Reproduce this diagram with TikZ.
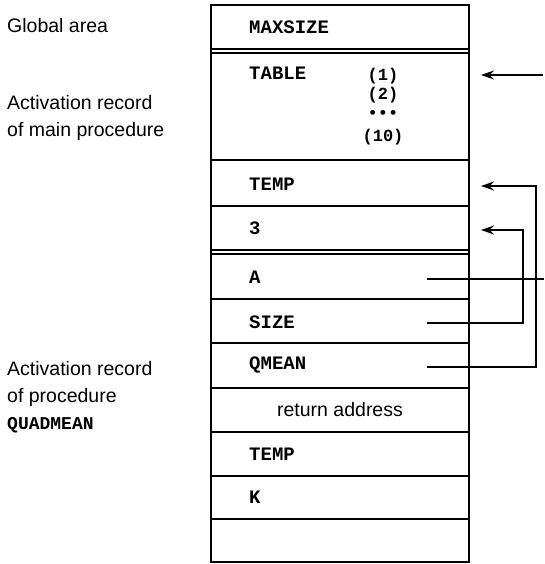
\documentclass[tikz,border=0pt]{standalone}
\usepackage{fontspec}
\setmainfont{Liberation Sans}
\newfontfamily\varfont{Liberation Mono}
\usetikzlibrary{arrows.meta}
\begin{document}
\begin{tikzpicture}[x=1pt,y=-1pt,
  cell/.style={minimum width=258pt, inner sep=0pt, outer sep=0pt},
  frame/.style={line width=1.6pt},
  rowline/.style={line width=1.5pt},
  var/.style={font=\varfont\bfseries\fontsize{19}{22}\selectfont, anchor=west, inner sep=0pt},
  num/.style={font=\varfont\bfseries\fontsize{17}{20}\selectfont, inner sep=0pt},
  plain/.style={font=\fontsize{19.5}{24}\selectfont, inner sep=0pt},
  lab/.style={font=\fontsize{19.5}{27}\selectfont, anchor=west, align=left, inner sep=0pt},
  wire/.style={line width=1.6pt},
  ptr/.style={line width=1.6pt, -{Stealth[length=13pt,width=9pt]}}]
\useasboundingbox (0,0) rectangle (544,564);

% rows of the stack
\node[cell, minimum height=44pt]  (rMax)   at (340,27)    {};
\node[cell, minimum height=107pt] (rTable) at (340,106.5) {};
\node[cell, minimum height=46pt]  (rTemp)  at (340,183)   {};
\node[cell, minimum height=44pt]  (rThree) at (340,228)   {};
\node[cell, minimum height=45pt]  (rA)     at (340,276.5) {};
\node[cell, minimum height=44pt]  (rSize)  at (340,321)   {};
\node[cell, minimum height=45pt]  (rQmean) at (340,365.5) {};
\node[cell, minimum height=44pt]  (rRet)   at (340,410)   {};
\node[cell, minimum height=44pt]  (rTempB) at (340,454)   {};
\node[cell, minimum height=43pt]  (rK)     at (340,497.5) {};
\node[cell, minimum height=43pt]  (rEmpty) at (340,540.5) {};

\draw[frame] (rMax.north west) rectangle (rEmpty.south east);
\foreach \r in {rMax,rTable,rTemp,rThree,rA,rSize,rQmean,rRet,rTempB,rK}
  \draw[rowline] (\r.south west) -- (\r.south east);
\draw[rowline] (rTable.north west) -- (rTable.north east);
\draw[rowline] (rA.north west) -- (rA.north east);

% texts in the rows
\node[var] (tMax)   at (249,27)  {MAXSIZE};
\node[var] (tTable) at (249,73)  {TABLE};
\node[num] (n1)     at (383,76)  {(1)};
\node[num] (n2)     at (383,95)  {(2)};
\node[num] (ndots)  at (383,114) {•••};
\node[num] (n10)    at (383,137) {(10)};
\node[var] (tTemp)  at (249,184) {TEMP};
\node[var] (tThree) at (249,228) {3};
\node[var] (tA)     at (249,277) {A};
\node[var] (tSize)  at (249,322) {SIZE};
\node[var] (tQmean) at (249,365) {QMEAN};
\node[plain] (tRet) at (rRet)    {return address};
\node[var] (tTempB) at (249,454) {TEMP};
\node[var] (tK)     at (249,497) {K};

% left labels
\node[lab] (lGlobal) at (7,26)    {Global area};
\node[lab] (lMain)   at (7,117.5) {Activation record\\of main procedure};
\node[lab] (lQuad)   at (7,397)   {Activation record\\of procedure\\{\varfont\bfseries\fontsize{18}{27}\selectfont QUADMEAN}};

% connector ends
\coordinate (tableIn)  at (543,75);
\coordinate (tableTip) at (481,75);
\coordinate (tempTip)  at (481,186);
\coordinate (threeTip) at (481,230);
\coordinate (aOut)     at (427,279);
\coordinate (aEnd)     at (544,279);
\coordinate (sizeOut)  at (427,323);
\coordinate (qmeanOut) at (427,367);

\draw[ptr] (tableIn) -- (tableTip);
\draw[wire] (aOut) -- (aEnd);
\draw[ptr] (sizeOut) -- ++(96,0) |- (threeTip);
\draw[ptr] (qmeanOut) -- ++(109,0) |- (tempTip);
\end{tikzpicture}
\end{document}
